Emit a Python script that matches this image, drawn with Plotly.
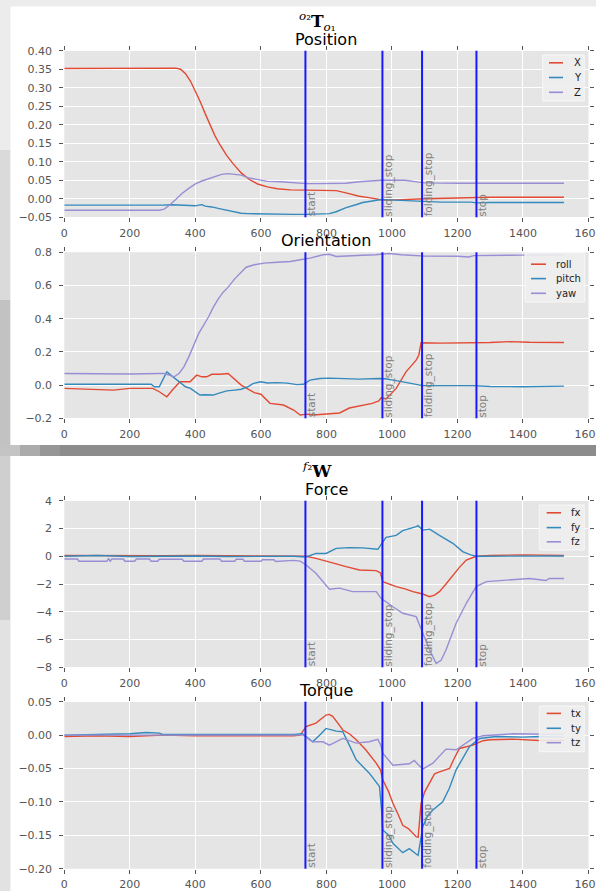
import plotly.graph_objects as go

W, H = 596, 891

# ---------------- data ----------------
# Position (o2 T o1)
pos_x_t = [0, 100, 200, 300, 340, 355, 370, 385, 400, 415, 430, 445, 460, 475, 495, 515, 540, 565, 590, 620, 650, 690, 780, 830, 860, 900, 930, 962, 990, 1013, 1100, 1200, 1240, 1250, 1300, 1400, 1525]
pos_x_v = [0.352, 0.352, 0.352, 0.352, 0.353, 0.350, 0.338, 0.318, 0.292, 0.262, 0.230, 0.198, 0.170, 0.146, 0.118, 0.095, 0.070, 0.052, 0.040, 0.032, 0.027, 0.024, 0.023, 0.022, 0.016, 0.007, 0.003, -0.002, -0.003, -0.003, 0.000, 0.002, 0.002, 0.004, 0.004, 0.004, 0.004]

pos_y_t = [0, 100, 200, 300, 330, 370, 400, 410, 420, 430, 450, 480, 500, 520, 540, 560, 600, 650, 700, 740, 780, 809, 830, 860, 890, 911, 940, 967, 990, 1020, 1050, 1092, 1150, 1240, 1260, 1300, 1400, 1525]
pos_y_v = [-0.017, -0.0175, -0.017, -0.017, -0.016, -0.018, -0.019, -0.017, -0.016, -0.020, -0.022, -0.028, -0.032, -0.036, -0.039, -0.040, -0.041, -0.041, -0.042, -0.042, -0.041, -0.040, -0.035, -0.024, -0.016, -0.010, -0.006, -0.002, -0.003, -0.004, -0.006, -0.008, -0.009, -0.009, -0.011, -0.010, -0.010, -0.010]

pos_z_t = [0, 100, 200, 290, 305, 320, 340, 360, 380, 400, 420, 440, 460, 480, 500, 520, 540, 560, 590, 620, 660, 700, 740, 780, 820, 860, 900, 940, 967, 1000, 1040, 1080, 1100, 1200, 1300, 1400, 1525]
pos_z_v = [-0.031, -0.031, -0.031, -0.031, -0.028, -0.018, -0.002, 0.015, 0.028, 0.040, 0.048, 0.054, 0.061, 0.066, 0.068, 0.067, 0.064, 0.057, 0.052, 0.047, 0.046, 0.043, 0.041, 0.041, 0.041, 0.042, 0.046, 0.049, 0.050, 0.050, 0.050, 0.045, 0.043, 0.042, 0.042, 0.042, 0.042]

# Orientation
ori_roll_t = [0, 50, 100, 150, 200, 270, 290, 313, 330, 353, 384, 404, 420, 435, 450, 475, 500, 516, 540, 557, 580, 600, 628, 669, 700, 720, 740, 760, 809, 840, 870, 911, 940, 960, 967, 982, 1000, 1013, 1043, 1074, 1082, 1089, 1150, 1216, 1300, 1359, 1420, 1525]
ori_roll_v = [-0.020, -0.023, -0.025, -0.030, -0.020, -0.020, -0.040, -0.070, -0.030, 0.020, 0.020, 0.060, 0.050, 0.050, 0.065, 0.065, 0.070, 0.040, 0.000, -0.020, -0.045, -0.055, -0.110, -0.120, -0.150, -0.180, -0.175, -0.180, -0.174, -0.168, -0.138, -0.120, -0.110, -0.095, -0.076, -0.084, -0.050, -0.020, 0.080, 0.150, 0.180, 0.255, 0.253, 0.253, 0.257, 0.262, 0.258, 0.257]

ori_pitch_t = [0, 100, 200, 265, 275, 290, 300, 313, 325, 340, 355, 370, 385, 400, 414, 430, 455, 470, 496, 520, 540, 560, 577, 600, 620, 650, 680, 710, 730, 750, 780, 810, 850, 900, 960, 980, 1013, 1050, 1094, 1150, 1250, 1300, 1400, 1525]
ori_pitch_v = [0.005, 0.006, 0.005, 0.005, -0.010, -0.010, 0.030, 0.080, 0.060, 0.035, 0.015, -0.010, -0.020, -0.040, -0.060, -0.058, -0.060, -0.050, -0.035, -0.030, -0.025, -0.010, 0.010, 0.020, 0.013, 0.015, 0.012, 0.003, 0.005, 0.030, 0.040, 0.042, 0.038, 0.036, 0.040, 0.038, 0.027, 0.015, -0.003, -0.003, -0.003, -0.008, -0.010, -0.006]

ori_yaw_t = [0, 100, 200, 290, 305, 320, 335, 350, 365, 380, 395, 410, 425, 440, 455, 470, 485, 500, 520, 540, 555, 580, 610, 650, 690, 720, 750, 790, 809, 830, 870, 911, 950, 990, 1030, 1070, 1100, 1200, 1235, 1250, 1300, 1400, 1525]
ori_yaw_v = [0.070, 0.068, 0.067, 0.070, 0.070, 0.060, 0.050, 0.070, 0.110, 0.170, 0.240, 0.310, 0.360, 0.410, 0.470, 0.520, 0.560, 0.590, 0.640, 0.680, 0.710, 0.725, 0.735, 0.740, 0.745, 0.755, 0.765, 0.785, 0.788, 0.775, 0.780, 0.782, 0.785, 0.793, 0.785, 0.778, 0.777, 0.776, 0.772, 0.780, 0.782, 0.783, 0.784]

# Force (f2 W)
frc_x_t = [0, 100, 200, 300, 400, 500, 600, 700, 738, 768, 809, 830, 860, 901, 952, 965, 972, 990, 1013, 1040, 1064, 1094, 1115, 1130, 1145, 1165, 1186, 1206, 1227, 1257, 1300, 1400, 1525]
frc_x_v = [0.05, 0.03, 0.05, 0.04, 0.05, 0.04, 0.05, 0.03, 0.00, -0.15, -0.39, -0.55, -0.75, -0.99, -1.04, -1.20, -1.83, -2.00, -2.19, -2.35, -2.55, -2.72, -2.92, -2.80, -2.55, -2.00, -1.35, -0.80, -0.27, 0.00, 0.05, 0.10, 0.05]

frc_y_t = [0, 100, 200, 300, 400, 500, 600, 700, 738, 768, 799, 830, 870, 911, 957, 970, 982, 1013, 1033, 1074, 1080, 1094, 1115, 1145, 1186, 1216, 1240, 1257, 1300, 1400, 1525]
frc_y_v = [0.00, 0.05, -0.02, 0.00, 0.02, -0.02, 0.00, 0.00, -0.05, 0.20, 0.20, 0.57, 0.62, 0.60, 0.50, 1.00, 1.36, 1.50, 1.84, 2.13, 2.20, 1.88, 1.95, 1.50, 0.93, 0.33, 0.10, 0.00, 0.00, 0.02, 0.02]

frc_z_t = [0, 40, 45, 130, 135, 140, 145, 180, 185, 215, 220, 260, 265, 285, 290, 360, 365, 420, 425, 475, 480, 520, 525, 545, 550, 600, 605, 640, 645, 700, 720, 738, 768, 809, 840, 880, 952, 967, 1003, 1033, 1074, 1094, 1115, 1135, 1150, 1165, 1196, 1227, 1257, 1288, 1330, 1369, 1420, 1470, 1480, 1525]
frc_z_v = [-0.20, -0.20, -0.36, -0.36, -0.15, -0.36, -0.20, -0.20, -0.36, -0.36, -0.20, -0.20, -0.36, -0.36, -0.22, -0.22, -0.36, -0.36, -0.20, -0.20, -0.36, -0.36, -0.22, -0.22, -0.36, -0.36, -0.25, -0.25, -0.38, -0.30, -0.35, -0.63, -1.23, -2.38, -2.30, -2.55, -2.55, -3.03, -3.64, -4.11, -4.35, -5.55, -6.76, -7.72, -7.50, -6.76, -4.83, -3.39, -2.19, -1.83, -1.75, -1.71, -1.60, -1.75, -1.60, -1.60]

# Torque
trq_x_t = [0, 100, 200, 300, 400, 500, 600, 700, 720, 738, 768, 799, 809, 819, 835, 850, 870, 891, 920, 952, 965, 972, 990, 1003, 1020, 1033, 1050, 1074, 1080, 1089, 1100, 1115, 1130, 1145, 1176, 1190, 1206, 1247, 1278, 1300, 1369, 1450, 1525]
trq_x_v = [-0.002, -0.001, -0.002, 0.000, -0.001, -0.001, -0.002, -0.001, 0.000, 0.0126, 0.018, 0.030, 0.031, 0.028, 0.018, 0.0076, 0.002, -0.007, -0.022, -0.042, -0.052, -0.067, -0.085, -0.102, -0.120, -0.135, -0.140, -0.152, -0.153, -0.102, -0.085, -0.072, -0.058, -0.055, -0.050, -0.035, -0.020, -0.015, -0.0084, -0.007, -0.006, -0.008, -0.008]

trq_y_t = [0, 100, 200, 250, 290, 300, 400, 500, 600, 700, 727, 758, 780, 799, 830, 850, 870, 891, 931, 962, 968, 972, 990, 1003, 1033, 1053, 1074, 1080, 1094, 1110, 1125, 1155, 1175, 1196, 1237, 1268, 1318, 1400, 1450, 1525]
trq_y_v = [0.000, 0.001, 0.002, 0.004, 0.003, 0.001, 0.001, 0.000, 0.000, 0.001, 0.002, -0.010, 0.000, 0.010, 0.006, 0.005, -0.015, -0.037, -0.057, -0.077, -0.110, -0.142, -0.150, -0.162, -0.176, -0.170, -0.178, -0.180, -0.137, -0.120, -0.112, -0.100, -0.080, -0.052, -0.017, -0.005, -0.002, -0.003, -0.002, -0.003]

trq_z_t = [0, 300, 600, 700, 730, 758, 789, 809, 830, 850, 891, 930, 957, 966, 972, 1003, 1053, 1068, 1094, 1125, 1165, 1196, 1247, 1278, 1369, 1450, 1525]
trq_z_v = [0.000, 0.000, 0.000, 0.000, 0.000, -0.010, -0.010, -0.015, -0.010, -0.005, -0.012, -0.010, -0.0063, -0.015, -0.027, -0.045, -0.043, -0.038, -0.051, -0.042, -0.021, -0.022, -0.005, -0.001, 0.002, 0.002, 0.001]

# events
event_t = [736, 971, 1092, 1258]
event_names = ["start", "sliding_stop", "folding_stop", "stop"]

# ticks
x_ticks = [0, 200, 400, 600, 800, 1000, 1200, 1400, 1600]
pos_yticks = [-0.05, 0.0, 0.05, 0.10, 0.15, 0.20, 0.25, 0.30, 0.35, 0.40]
pos_yticklabels = ["\u22120.05", "0.00", "0.05", "0.10", "0.15", "0.20", "0.25", "0.30", "0.35", "0.40"]
ori_yticks = [-0.2, 0.0, 0.2, 0.4, 0.6, 0.8]
ori_yticklabels = ["\u22120.2", "0.0", "0.2", "0.4", "0.6", "0.8"]
frc_yticks = [-8, -6, -4, -2, 0, 2, 4]
frc_yticklabels = ["\u22128", "\u22126", "\u22124", "\u22122", "0", "2", "4"]
trq_yticks = [-0.20, -0.15, -0.10, -0.05, 0.0, 0.05]
trq_yticklabels = ["\u22120.20", "\u22120.15", "\u22120.10", "\u22120.05", "0.00", "0.05"]

titles = ["Position", "Orientation", "Force", "Torque"]

# ---------------- styling ----------------
RED, BLUE, PURPLE = "#E24A33", "#348ABD", "#988ED5"
FONT = "DejaVu Sans"

x_dom_px = (64.3, 588.5)
tops_px = [50.7, 252.3, 500.7, 701.7]
bots_px = [217.3, 418.3, 667.3, 868.7]
yranges = [[-0.05, 0.40], [-0.2, 0.8], [-8, 4], [-0.20, 0.05]]
yticks_all = [pos_yticks, ori_yticks, frc_yticks, trq_yticks]
yticklabels_all = [pos_yticklabels, ori_yticklabels, frc_yticklabels, trq_yticklabels]
title_y_px = [39, 240.5, 489, 690.5]
# legend geometry in pixels: box (x0, y0, x1, y1), sample line x range, text x, row ys
legend_geo = [
    ((542.7, 55, 584.3, 101), (549, 563), 572.5, (62.8, 77.5, 92.3)),
    ((525, 252.5, 584.7, 302), (531, 546), 555, (264.2, 278.6, 293.3)),
    ((539.3, 505, 584.3, 550), (546.7, 561), 570, (512.8, 527.6, 541.8)),
    ((539.3, 706, 584.3, 751.7), (546.7, 561), 570, (713.4, 728.3, 742.7)),
]


def fx(p):
    return p / W


def fy(p):
    return 1 - p / H


series = [
    (0, "X", pos_x_t, pos_x_v, RED),
    (0, "Y", pos_y_t, pos_y_v, BLUE),
    (0, "Z", pos_z_t, pos_z_v, PURPLE),
    (1, "roll", ori_roll_t, ori_roll_v, RED),
    (1, "pitch", ori_pitch_t, ori_pitch_v, BLUE),
    (1, "yaw", ori_yaw_t, ori_yaw_v, PURPLE),
    (2, "fx", frc_x_t, frc_x_v, RED),
    (2, "fy", frc_y_t, frc_y_v, BLUE),
    (2, "fz", frc_z_t, frc_z_v, PURPLE),
    (3, "tx", trq_x_t, trq_x_v, RED),
    (3, "ty", trq_y_t, trq_y_v, BLUE),
    (3, "tz", trq_z_t, trq_z_v, PURPLE),
]


def sfx(i):
    return "" if i == 0 else str(i + 1)


fig = go.Figure()
for i, name, t, v, col in series:
    fig.add_trace(go.Scatter(
        x=t, y=v, mode="lines", name=name,
        line=dict(color=col, width=1.4),
        xaxis="x" + sfx(i), yaxis="y" + sfx(i),
        showlegend=False,
    ))

layout = dict(
    width=W, height=H, margin=dict(l=0, r=0, t=0, b=0, autoexpand=False),
    paper_bgcolor="#ececec", plot_bgcolor="#E5E5E5",
    font=dict(family=FONT, size=11, color="#555555"),
    shapes=[], annotations=[], showlegend=False,
)

# background panels (paper)
bg_rects = [
    (0, 150, 10.5, 300, "#dadada"),
    (0, 300, 10.5, 456, "#c2c2c2"),
    (0, 456, 10.5, 620, "#cfcfcf"),
    (0, 620, 10.5, 891, "#e2e2e2"),
    (0, 445, 20, 456, "#c4c4c4"),
    (20, 445, 40, 456, "#ababab"),
    (40, 445, 60, 456, "#969696"),
    (60, 445, 596, 456, "#8c8c8c"),
    (10.5, 6.5, 596, 445, "white"),
    (10.5, 456, 596, 891, "white"),
]
for x0, y0, x1, y1, c in bg_rects:
    layout["shapes"].append(dict(type="rect", xref="paper", yref="paper",
                                 x0=fx(x0), x1=fx(x1), y0=fy(y1), y1=fy(y0),
                                 fillcolor=c, line=dict(width=0), layer="below"))

for i in range(4):
    s = sfx(i)
    layout["xaxis" + s] = dict(
        domain=[fx(x_dom_px[0]), fx(x_dom_px[1])], range=[0, 1600], anchor="y" + s,
        tickvals=x_ticks, ticks="outside", ticklen=4, tickcolor="#555555",
        showline=True, linecolor="white", linewidth=1, mirror="ticks",
        showgrid=True, gridcolor="white", gridwidth=1, zeroline=False,
        automargin=False, ticklabeloverflow="allow", ticklabelstandoff=1,
        tickfont=dict(family=FONT, size=11, color="#555555"),
    )
    layout["yaxis" + s] = dict(
        domain=[fy(bots_px[i]), fy(tops_px[i])], range=yranges[i], anchor="x" + s,
        tickvals=yticks_all[i], ticktext=yticklabels_all[i],
        ticks="outside", ticklen=4, tickcolor="#555555",
        showline=True, linecolor="white", linewidth=1, mirror="ticks",
        showgrid=True, gridcolor="white", gridwidth=1, zeroline=False,
        automargin=False, ticklabeloverflow="allow", ticklabelstandoff=5,
        tickfont=dict(family=FONT, size=11, color="#555555"),
    )
    layout["shapes"].append(dict(type="rect", xref="x" + s + " domain", yref="y" + s + " domain",
                                 x0=0, x1=1, y0=0, y1=1, fillcolor="#E5E5E5",
                                 line=dict(width=0), layer="below"))
    for et, en in zip(event_t, event_names):
        layout["shapes"].append(dict(type="line", xref="x" + s, yref="y" + s + " domain",
                                     x0=et, x1=et, y0=0, y1=1,
                                     line=dict(color="rgb(25,25,255)", width=2), layer="above"))
        layout["annotations"].append(dict(
            x=et, y=0, xref="x" + s, yref="y" + s + " domain", text=en,
            textangle=-90, xanchor="left", yanchor="bottom", showarrow=False,
            borderpad=0, xshift=-1.5, font=dict(family=FONT, size=10.5, color="#808080"),
        ))
    layout["annotations"].append(dict(
        x=fx(326.3), y=fy(title_y_px[i]), xref="paper", yref="paper", text=titles[i],
        showarrow=False, xanchor="center", yanchor="middle",
        font=dict(family=FONT, size=16, color="black"),
    ))
    (bx0, by0, bx1, by1), (lx0, lx1), tx, rows = legend_geo[i]
    layout["shapes"].append(dict(type="rect", xref="paper", yref="paper",
                                 x0=fx(bx0), x1=fx(bx1), y0=fy(by1), y1=fy(by0),
                                 fillcolor="rgba(238,238,238,0.9)",
                                 line=dict(color="#f7f7f7", width=1), layer="above"))
    entries = [(name, col) for (k, name, t, v, col) in series if k == i]
    for (name, col), ry in zip(entries, rows):
        layout["shapes"].append(dict(type="line", xref="paper", yref="paper",
                                     x0=fx(lx0), x1=fx(lx1), y0=fy(ry), y1=fy(ry),
                                     line=dict(color=col, width=1.6), layer="above"))
        layout["annotations"].append(dict(
            x=fx(tx), y=fy(ry), xref="paper", yref="paper", text=name,
            showarrow=False, xanchor="left", yanchor="middle", borderpad=0,
            font=dict(family=FONT, size=10, color="#222222"),
        ))

layout["annotations"].append(dict(
    x=fx(318), y=fy(21), xref="paper", yref="paper",
    text="<sup><i>o</i>\u2082</sup><b>T</b><sub><i>o</i>\u2081</sub>",
    showarrow=False, xanchor="center", yanchor="middle",
    font=dict(family="DejaVu Serif", size=17, color="black"),
))
layout["annotations"].append(dict(
    x=fx(317), y=fy(470), xref="paper", yref="paper",
    text="<sup><i>f</i>\u2082</sup><b>W</b>",
    showarrow=False, xanchor="center", yanchor="middle",
    font=dict(family="DejaVu Serif", size=17, color="black"),
))

fig.update_layout(**layout)
fig.write_html("out.html")
